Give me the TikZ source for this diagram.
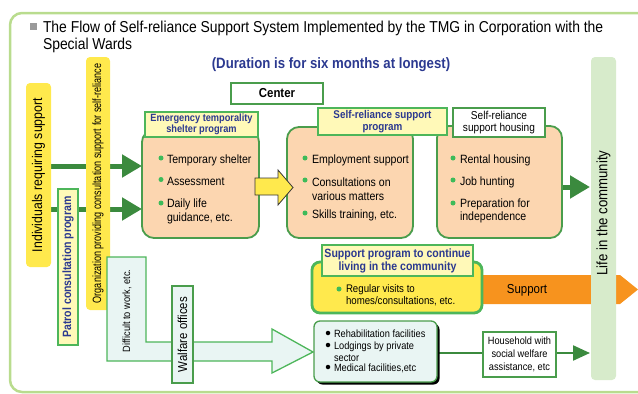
\documentclass[tikz,border=0pt]{standalone}
\usepackage{fontspec}
\setmainfont[FakeStretch=0.88]{Liberation Sans}
\usepackage{graphicx}
\usetikzlibrary{arrows.meta,backgrounds}
\definecolor{frameg}{HTML}{B9DC8E}
\definecolor{dkg}{HTML}{3B8A3E}
\definecolor{boxg}{HTML}{4A9D4C}
\definecolor{labg}{HTML}{4DB65A}
\definecolor{dotg}{HTML}{3DBB5A}
\definecolor{peach}{HTML}{FCD6B0}
\definecolor{ybright}{HTML}{FFE94D}
\definecolor{paley}{HTML}{FFF9B8}
\definecolor{navyb}{HTML}{2B3990}
\definecolor{orng}{HTML}{F7931E}
\definecolor{lifeg}{HTML}{D7EBCB}
\definecolor{palec}{HTML}{E9F5F3}
\definecolor{sqgray}{HTML}{9A9A9A}
\begin{document}
\begin{tikzpicture}[x=1pt,y=-1pt,
  every node/.style={inner sep=0pt, outer sep=0pt},
  txt/.style={font=\fontsize{12}{13.5}\selectfont, align=left, anchor=west},
  stxt/.style={font=\fontsize{10.5}{11.5}\selectfont, align=left, anchor=west},
  blab/.style={font=\bfseries\fontsize{10.5}{11.2}\selectfont, text=navyb, align=center},
  peachbox/.style={draw=boxg, line width=1.8pt, fill=peach, rounded corners=12pt},
  labbox/.style={draw=labg, line width=2.4pt, fill=paley},
  gdot/.style={circle, fill=dotg, minimum size=5pt},
  kdot/.style={circle, fill=black, minimum size=4.5pt},
  ybar/.style={fill=ybright, rounded corners=4pt, rotate=90},
  darrow/.style={draw=dkg, line width=5pt, -{Triangle[length=20pt,width=22pt]}},
  tarrow/.style={draw=dkg, line width=2.3pt, -{Triangle[length=17pt,width=15pt]}},
  ttl/.style={anchor=base west, font=\fontsize{15.8}{17}\selectfont},
]
\clip (0,0) rectangle (638,394);
% title
\fill[sqgray] (30,23) rectangle (37,30);
\node[ttl] (title) at (43,32) {The Flow of Self-reliance Support System Implemented by the TMG in Corporation with the};
\node[ttl] (title2) at (43,49) {Special Wards};
\node[anchor=base, font=\bfseries\fontsize{15}{15}\selectfont, text=navyb] (dur) at (331,68) {(Duration is for six months at longest)};
\node[draw=boxg, line width=1.2pt, fill=white, minimum width=92pt, minimum height=21pt, font=\bfseries\fontsize{13}{14}\selectfont] (center) at (277,93.5) {Center};

% left bars
\node[ybar, minimum width=184pt, minimum height=25pt, font=\fontsize{14}{14}\selectfont] (indiv) at (38.5,175) {Individuals requiring support};
\node[rotate=90, draw=labg, line width=2.4pt, fill=paley, minimum width=156pt, minimum height=20pt, font=\bfseries\fontsize{12}{12}\selectfont, text=navyb] (patrol) at (68,267) {Patrol consultation program};
\node[ybar, minimum width=253pt, minimum height=24pt, font=\fontsize{12}{12}\selectfont] (org) at (98,183.5) {\scalebox{0.86}[1]{Organization providing consultation support for self-reliance}};

% boxes
\node[peachbox, minimum width=117pt, minimum height=108pt] (emerg) at (200.5,184) {};
\node[labbox, minimum width=113pt, minimum height=25pt, blab] (emergl) at (201.5,124.5) {Emergency temporality\\shelter program};
\node[peachbox, minimum width=126pt, minimum height=111pt] (prog) at (350,182.5) {};
\node[peachbox, minimum width=125pt, minimum height=112pt] (house) at (499.5,182) {};
\node[labbox, minimum width=129pt, minimum height=27pt, blab, font=\bfseries\fontsize{11.2}{12}\selectfont] (progl) at (382.5,121.5) {Self-reliance support\\program};
\node[draw=boxg, line width=1.2pt, fill=white, minimum width=92pt, minimum height=29pt, font=\fontsize{11.5}{12.5}\selectfont, align=center] (housel) at (499,122.5) {Self-reliance\\support housing};

% bullets emergency
\node[gdot] (e1d) at (161,158) {};
\node[txt] (e1) at (167,160) {Temporary shelter};
\node[gdot] (e2d) at (161,179.5) {};
\node[txt] (e2) at (167,181) {Assessment};
\node[gdot] (e3d) at (161,203) {};
\node[txt] (e3) at (167,211.5) {Daily life\\guidance, etc.};
% bullets program
\node[gdot] (p1d) at (305,158) {};
\node[txt] (p1) at (312,160) {Employment support};
\node[gdot] (p2d) at (305,180) {};
\node[txt] (p2) at (312,189) {Consultations on\\various matters};
\node[gdot] (p3d) at (305,213) {};
\node[txt] (p3) at (312,215) {Skills training, etc.};
% bullets housing
\node[gdot] (h1d) at (453,158) {};
\node[txt] (h1) at (460,160) {Rental housing};
\node[gdot] (h2d) at (453,180) {};
\node[txt] (h2) at (460,182) {Job hunting};
\node[gdot] (h3d) at (453,203) {};
\node[txt] (h3) at (460,211) {Preparation for\\independence};

% yellow block arrow
\draw[fill=ybright, draw=black!80, line width=0.8pt] (255,178) -- (278,178) -- (278,170) -- (293,187.5) -- (278,205) -- (278,195) -- (255,195) -- cycle;

% support program to continue
\node[draw=labg, line width=2.8pt, fill=ybright, rounded corners=8pt, minimum width=170pt, minimum height=51pt] (cont) at (397,287.5) {};
\node[labbox, minimum width=151pt, minimum height=31pt, blab, font=\bfseries\fontsize{12}{13}\selectfont] (contl) at (397.5,260.5) {Support program to continue\\living in the community};
\node[gdot] (c1d) at (339,289) {};
\node[stxt, font=\fontsize{11}{12}\selectfont] (c1) at (346,295.5) {Regular visits to\\homes/consultations, etc.};

% welfare L arrow
\draw[fill=palec, draw=labg, line width=1.3pt] (107,257) -- (146,257) -- (146,342) -- (272,342) -- (272,329) -- (313,352) -- (272,373) -- (272,361) -- (107,361) -- cycle;
\node[rotate=90, font=\fontsize{10.5}{11}\selectfont] (diff) at (127,311) {Difficult to work, etc.};
\node[rotate=90, draw=boxg, line width=1.2pt, fill=palec, minimum width=97pt, minimum height=21pt, font=\fontsize{13}{13}\selectfont] (welf) at (182.5,334.5) {Walfare offices};

% rehab box
\fill[black, rounded corners=6pt] (316.5,323.5) rectangle (439.5,384.5);
\node[draw=boxg, line width=1.3pt, fill=palec, rounded corners=6pt, minimum width=123pt, minimum height=61pt] (rehab) at (375.5,351.5) {};
\node[kdot] (r1d) at (328,333) {};
\node[stxt] (r1) at (334,334) {Rehabilitation facilities};
\node[kdot] (r2d) at (328,345) {};
\node[stxt] (r2) at (334,351.5) {Lodgings by private\\sector};
\node[kdot] (r3d) at (328,367) {};
\node[stxt] (r3) at (334,368) {Medical facilities,etc};

% life bar
\node[fill=lifeg, rounded corners=4pt, rotate=90, minimum width=323pt, minimum height=25pt] (life) at (603.5,218.5) {};
\node[rotate=90, font=\fontsize{15}{15}\selectfont] (lifet) at (603.5,213) {Life in the community};

\node[draw=boxg, line width=1.2pt, fill=white, minimum width=73pt, minimum height=45pt, font=\fontsize{10.5}{13}\selectfont, align=center] (hh) at (519.5,354.5) {Household with\\social welfare\\assistance, etc};

% connectors behind
\begin{scope}[on background layer]
\draw[frameg, line width=2.5pt, rounded corners=12pt] (10,13) rectangle (690,392);
\draw[darrow] (indiv.south |- 0,166) -- (emerg.west |- 0,166);
\draw[darrow] (indiv.south |- 0,209) -- (emerg.west |- 0,209);
\draw[darrow] (house.east |- 0,187) -- ([xshift=-1pt]life.north |- 0,187);
\draw[tarrow] (rehab.east |- 0,353) -- ([xshift=-1pt]life.north |- 0,353);
\fill[orng] (cont.east |- 0,275) -- (620,275) -- (638,289.5) -- (620,304) -- (cont.east |- 0,304) -- cycle;
\end{scope}
\node[font=\fontsize{13}{13}\selectfont] (sup) at (527,290) {Support};
\end{tikzpicture}
\end{document}
